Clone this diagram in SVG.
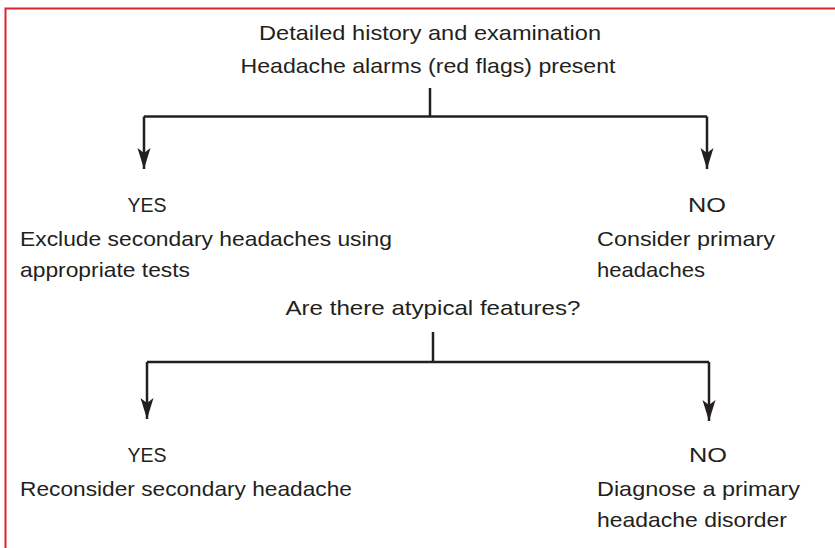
<svg xmlns="http://www.w3.org/2000/svg" width="835" height="548" viewBox="0 0 835 548">
<style>
.t{font-family:"Liberation Sans",Arial,sans-serif;font-size:21px;fill:#231f20}
.c{text-anchor:middle}
.ln{fill:none;stroke:#231f20;stroke-width:2.5}
.ar{marker-end:url(#ah)}
</style>
<defs>
<marker id="ah" markerUnits="userSpaceOnUse" viewBox="-1 -8 23 16" refX="21" refY="0" markerWidth="23" markerHeight="16" orient="auto">
<path d="M0,-6.5 L21,0 L0,6.5 L5,0 Z" fill="#231f20"/>
</marker>
</defs>
<rect width="835" height="548" fill="#fff"/>
<path d="M5.5,548 V8.5 H835" fill="none" stroke="#d9262c" stroke-width="2"/>
<g id="connectors">
<path class="ln" d="M430,88 V116.5"/>
<path class="ln" d="M144,116.5 H707"/>
<path class="ln ar" d="M144,116.5 V169"/>
<path class="ln ar" d="M707,116.5 V169"/>
<path class="ln" d="M433,332 V362"/>
<path class="ln" d="M147,362 H709"/>
<path class="ln ar" d="M147,362 V419"/>
<path class="ln ar" d="M709,362 V421"/>
</g>
<g id="n_start">
<text class="t c" x="430" y="40" textLength="342" lengthAdjust="spacingAndGlyphs">Detailed history and examination</text>
<text class="t c" x="428" y="73" textLength="375" lengthAdjust="spacingAndGlyphs">Headache alarms (red flags) present</text>
</g>
<g id="n_yes1">
<text class="t c" x="147" y="212" textLength="39" lengthAdjust="spacingAndGlyphs">YES</text>
<text class="t" x="20" y="246" textLength="372" lengthAdjust="spacingAndGlyphs">Exclude secondary headaches using</text>
<text class="t" x="20" y="277" textLength="170" lengthAdjust="spacingAndGlyphs">appropriate tests</text>
</g>
<g id="n_no1">
<text class="t c" x="707" y="212" textLength="38" lengthAdjust="spacingAndGlyphs">NO</text>
<text class="t" x="597" y="246" textLength="178" lengthAdjust="spacingAndGlyphs">Consider primary</text>
<text class="t" x="597" y="277" textLength="108" lengthAdjust="spacingAndGlyphs">headaches</text>
</g>
<g id="n_atyp">
<text class="t c" x="433" y="315" textLength="295" lengthAdjust="spacingAndGlyphs">Are there atypical features?</text>
</g>
<g id="n_yes2">
<text class="t c" x="147" y="462" textLength="39" lengthAdjust="spacingAndGlyphs">YES</text>
<text class="t" x="20" y="496" textLength="332" lengthAdjust="spacingAndGlyphs">Reconsider secondary headache</text>
</g>
<g id="n_no2">
<text class="t c" x="708" y="462" textLength="38" lengthAdjust="spacingAndGlyphs">NO</text>
<text class="t" x="597" y="496" textLength="203" lengthAdjust="spacingAndGlyphs">Diagnose a primary</text>
<text class="t" x="597" y="527" textLength="190" lengthAdjust="spacingAndGlyphs">headache disorder</text>
</g>
</svg>
